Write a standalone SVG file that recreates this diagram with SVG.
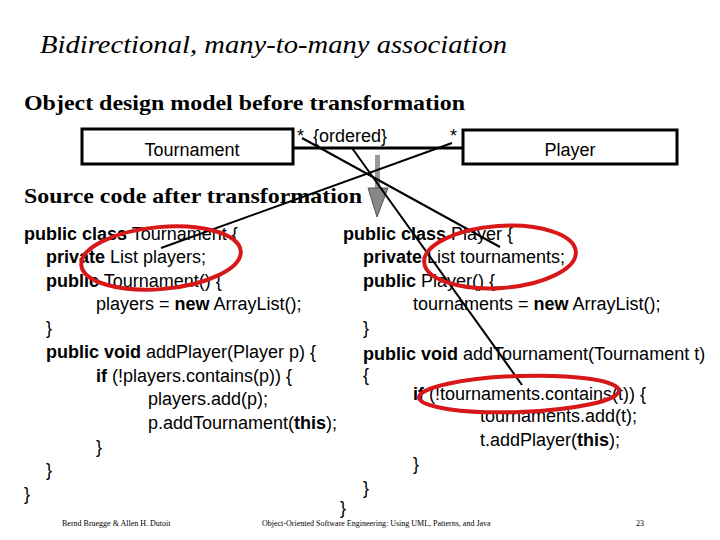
<svg xmlns="http://www.w3.org/2000/svg" width="720" height="540" viewBox="0 0 720 540">
<style>
.t{font-family:"Liberation Serif",serif;fill:#000;font-weight:bold}
.c{font-family:"Liberation Sans",Arial,sans-serif;font-size:18px;fill:#000}
.b{font-weight:bold}
.box{fill:#fff;stroke:#000;stroke-width:3}
.x{stroke:#000;stroke-width:2}
.r{fill:none;stroke:#d81818;stroke-width:4}
.f{font-family:"Liberation Serif",serif;font-size:8px;fill:#000}
</style>
<rect width="720" height="540" fill="#fff"/>
<text x="40" y="53" style="font-family:'Liberation Serif',serif;font-size:26px;font-style:italic;font-weight:normal" textLength="467" lengthAdjust="spacingAndGlyphs">Bidirectional, many-to-many association</text>
<text class="t" x="24" y="110" font-size="22" textLength="441" lengthAdjust="spacingAndGlyphs">Object design model before transformation</text>
<g id="connectors">
<line x1="293" y1="148" x2="463" y2="148" stroke="#000" stroke-width="3"/>
</g>
<g id="tournament"><rect class="box" x="82" y="129" width="211" height="35"/>
<text class="c" x="192" y="156" text-anchor="middle" font-size="16">Tournament</text></g>
<g id="player"><rect class="box" x="463" y="130" width="214" height="34"/>
<text class="c" x="570" y="156" text-anchor="middle" font-size="16">Player</text></g>
<text class="c" x="297" y="142" font-size="10">*</text>
<text class="c" x="313" y="142" font-size="15">{ordered}</text>
<text class="c" x="450" y="142" font-size="10">*</text>
<text class="t" x="24" y="203" font-size="22" textLength="338" lengthAdjust="spacingAndGlyphs">Source code after transformation</text>
<g id="arrow"><rect x="375" y="155" width="5" height="33" fill="#999"/>
<polygon points="368,188 388,188 377,217" fill="#888" stroke="#555" stroke-width="1"/></g>
<g id="code">
<text class="c" x="24" y="240"><tspan class="b">public class</tspan> Tournament {</text>
<text class="c" x="46" y="263"><tspan class="b">private</tspan> List players;</text>
<text class="c" x="46" y="287"><tspan class="b">public</tspan> Tournament() {</text>
<text class="c" x="96" y="310">players = <tspan class="b">new</tspan> ArrayList();</text>
<text class="c" x="46" y="334">}</text>
<text class="c" x="46" y="358"><tspan class="b">public void</tspan> addPlayer(Player p) {</text>
<text class="c" x="96" y="382"><tspan class="b">if</tspan> (!players.contains(p)) {</text>
<text class="c" x="148" y="405">players.add(p);</text>
<text class="c" x="148" y="429">p.addTournament(<tspan class="b">this</tspan>);</text>
<text class="c" x="96" y="453">}</text>
<text class="c" x="46" y="476">}</text>
<text class="c" x="24" y="500">}</text>
<text class="c" x="343" y="240"><tspan class="b">public class</tspan> Player {</text>
<text class="c" x="363" y="263"><tspan class="b">private</tspan> List tournaments;</text>
<text class="c" x="363" y="287"><tspan class="b">public</tspan> Player() {</text>
<text class="c" x="413" y="310">tournaments = <tspan class="b">new</tspan> ArrayList();</text>
<text class="c" x="363" y="334">}</text>
<text class="c" x="363" y="360"><tspan class="b">public void</tspan> addTournament(Tournament t)</text>
<text class="c" x="363" y="381">{</text>
<text class="c" x="413" y="400"><tspan class="b">if</tspan> (!tournaments.contains(t)) {</text>
<text class="c" x="480" y="422">tournaments.add(t);</text>
<text class="c" x="480" y="446">t.addPlayer(<tspan class="b">this</tspan>);</text>
<text class="c" x="413" y="470">}</text>
<text class="c" x="363" y="494">}</text>
<text class="c" x="340" y="514">}</text>
</g>
<g id="cross">
<line class="x" x1="302" y1="138" x2="500" y2="247"/>
<line class="x" x1="452" y1="143" x2="161" y2="248"/>
<line class="x" x1="352" y1="148" x2="522" y2="385"/>
</g>
<g id="marks">
<ellipse class="r" cx="161" cy="258" rx="80" ry="31" transform="rotate(-5 161 258)"/>
<ellipse class="r" cx="500" cy="257" rx="76" ry="31" transform="rotate(-4 500 257)"/>
<ellipse class="r" cx="519" cy="394" rx="100" ry="18" transform="rotate(-2 519 394)"/>
</g>
<text class="f" x="62" y="526">Bernd Bruegge &amp; Allen H. Dutoit</text>
<text class="f" x="262" y="526">Object-Oriented Software Engineering: Using UML, Patterns, and Java</text>
<text class="f" x="636" y="526">23</text>
</svg>
